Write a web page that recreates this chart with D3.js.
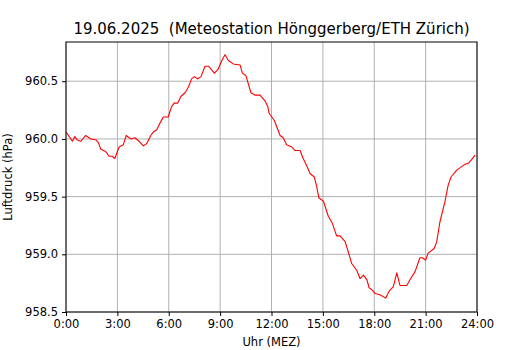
<!DOCTYPE html>
<html><head><meta charset="utf-8">
<script src="https://cdn.jsdelivr.net/npm/d3@7"></script>
<style>body{margin:0;background:#fff}svg{display:block}text{font-family:"DejaVu Sans",sans-serif;white-space:pre}</style>
</head><body><svg id="c" width="530" height="350"></svg>
<script>
const title = "19.06.2025  (Meteostation Hönggerberg/ETH Zürich)";
const xLabel = "Uhr (MEZ)";
const yLabel = "Luftdruck (hPa)";
// minutes since midnight
const times = [0,17,22,31,40,52,69,87,106,113,122,139,151,162,171,186,201,211,221,229,241,256,271,283,297,306,318,332,341,358,370,379,391,403,417,429,440,450,461,473,487,499,520,532,546,557,569,586,610,618,630,648,662,680,697,707,712,730,750,761,773,791,802,820,831,843,855,870,878,886,902,919,933,948,960,978,989,1001,1019,1030,1042,1054,1062,1073,1083,1100,1120,1132,1147,1159,1170,1182,1194,1205,1223,1240,1248,1260,1269,1290,1299,1310,1328,1339,1349,1369,1386,1398,1410,1421,1433];
const pressure = [960.06,960.00,959.98,960.02,959.99,959.98,960.03,960.00,959.99,959.97,959.91,959.89,959.85,959.85,959.83,959.93,959.95,960.03,960.01,960.00,960.01,959.98,959.94,959.96,960.03,960.06,960.08,960.15,960.19,960.19,960.28,960.31,960.31,960.37,960.40,960.45,960.52,960.54,960.52,960.54,960.63,960.63,960.57,960.60,960.68,960.73,960.68,960.65,960.64,960.57,960.55,960.40,960.38,960.38,960.33,960.28,960.22,960.16,960.03,960.01,959.95,959.93,959.90,959.90,959.83,959.77,959.70,959.67,959.59,959.49,959.46,959.33,959.27,959.16,959.16,959.11,959.02,958.92,958.86,958.79,958.82,958.78,958.71,958.69,958.66,958.65,958.62,958.68,958.72,958.84,958.73,958.73,958.73,958.78,958.85,958.97,958.97,958.95,959.01,959.05,959.11,959.28,959.46,959.60,959.67,959.73,959.76,959.78,959.79,959.82,959.86];
const xTicks = [0,180,360,540,720,900,1080,1260,1440];
const xTickLabels = ["0:00","3:00","6:00","9:00","12:00","15:00","18:00","21:00","24:00"];
const yTicks = [958.5,959.0,959.5,960.0,960.5];
const yTickLabels = ["958.5","959.0","959.5","960.0","960.5"];

const L=66,R=477,T=42,B=312;
const svg=d3.select("#c");
const x=d3.scaleLinear().domain([0,1440]).range([L,R]);
const y=d3.scaleLinear().domain([958.5,960.84]).range([B,T]);

// grid
svg.append("g").selectAll("line").data(xTicks).join("line")
  .attr("x1",d=>x(d)).attr("x2",d=>x(d)).attr("y1",T).attr("y2",B)
  .attr("stroke","#b0b0b0").attr("stroke-width",1);
svg.append("g").selectAll("line").data(yTicks).join("line")
  .attr("x1",L).attr("x2",R).attr("y1",d=>y(d)).attr("y2",d=>y(d))
  .attr("stroke","#b0b0b0").attr("stroke-width",1);

// line
svg.append("path").datum(times.map((t,i)=>[t,pressure[i]]))
  .attr("fill","none").attr("stroke","#ff0000").attr("stroke-width",1.1)
  .attr("stroke-linejoin","round")
  .attr("d",d3.line().x(d=>x(d[0])).y(d=>y(d[1])));

// axes
const xa=svg.append("g").attr("transform",`translate(0,${B})`)
  .call(d3.axisBottom(x).tickValues(xTicks).tickFormat((d,i)=>xTickLabels[i]).tickSize(4).tickPadding(4));
const ya=svg.append("g").attr("transform",`translate(${L},0)`)
  .call(d3.axisLeft(y).tickValues(yTicks).tickFormat((d,i)=>yTickLabels[i]).tickSize(4).tickPadding(4));
[xa,ya].forEach(a=>{a.select(".domain").remove();a.selectAll("text").attr("font-size",11.5).attr("fill","#000").attr("font-family","DejaVu Sans");a.selectAll("line").attr("stroke","#000");});
svg.append("rect").attr("x",L).attr("y",T).attr("width",R-L).attr("height",B-T)
  .attr("fill","none").attr("stroke","#000").attr("stroke-width",1);

svg.append("text").attr("x",(L+R)/2).attr("y",34).attr("text-anchor","middle")
  .attr("xml:space","preserve").attr("font-size",15).text(title);
svg.append("text").attr("x",(L+R)/2).attr("y",346).attr("text-anchor","middle")
  .attr("font-size",11.5).text(xLabel);
svg.append("text").attr("transform",`translate(12,${(T+B)/2}) rotate(-90)`).attr("text-anchor","middle")
  .attr("font-size",11.5).text(yLabel);
</script></body></html>
